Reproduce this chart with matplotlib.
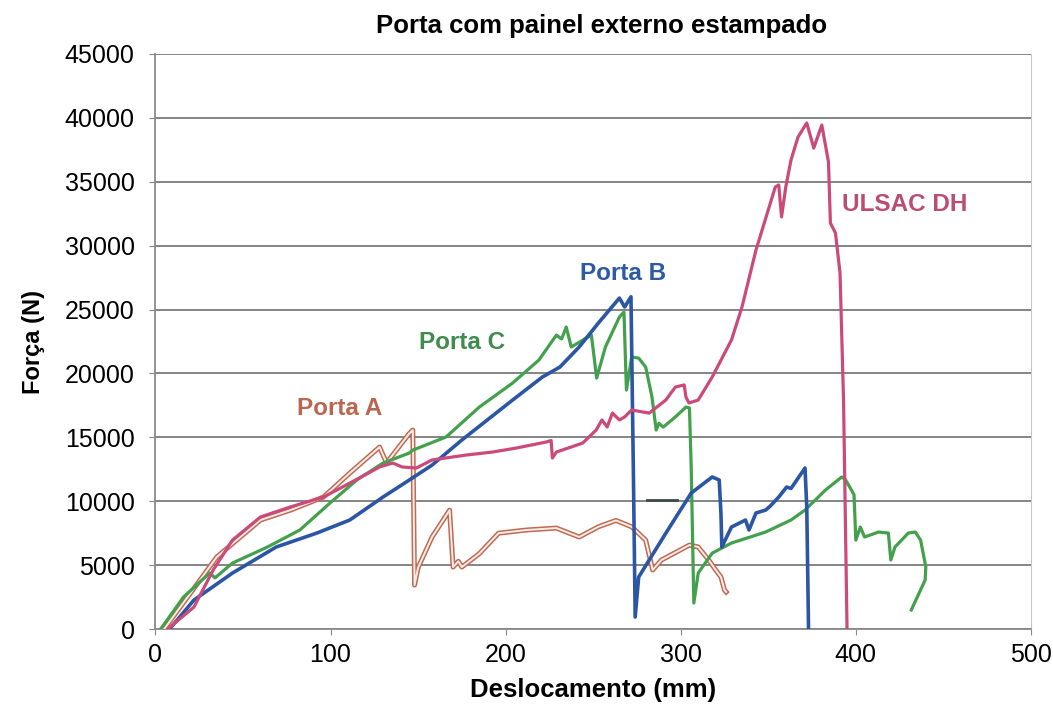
import numpy as np
import matplotlib.pyplot as plt

plt.rcParams['font.family'] = ['Liberation Sans', 'DejaVu Sans']

# Deslocamento (mm) / Força (N) de cada ensaio
porta_a_x = [5, 20, 35, 60, 77, 96, 111, 128, 132, 145, 147, 148, 150, 158, 168, 170, 173, 175,
             185, 196, 212, 229, 242, 253, 263, 272, 280, 284, 289, 305, 310, 316, 320, 323, 325, 326]
porta_a_y = [0, 2800, 5630, 8530, 9300, 10330, 12200, 14240, 13000, 15300, 15570, 3440, 4800, 7200,
             9300, 4850, 5300, 4850, 5900, 7500, 7750, 7900, 7200, 8000, 8500, 8000, 6960, 4620,
             5400, 6570, 6420, 5400, 4620, 4070, 3050, 2900]

porta_b_x = [8, 9, 22, 44, 69, 92, 111, 130, 145, 158, 175, 204, 221, 231, 242, 253, 265, 268,
             271.6, 273, 274, 276, 291.5, 306, 318, 322, 323, 323.5, 329, 337, 339, 343, 348.5,
             351, 356, 360.5, 363, 371, 372, 373]
porta_b_y = [0, 150, 2270, 4380, 6420, 7500, 8530, 10330, 11660, 12830, 14790, 17920, 19720, 20500,
             22070, 23950, 25900, 25200, 26000, 12000, 940, 4070, 7500, 10640, 11900, 11660, 9000,
             6420, 7980, 8530, 7750, 9080, 9310, 9600, 10330, 11110, 11000, 12600, 9550, 0]

porta_c_x = [3, 16, 31, 34, 44, 64, 82.5, 99.7, 115, 130, 145, 147, 166, 185, 204, 219, 229, 232,
             234.6, 237.5, 246, 249, 252, 257, 265, 267.6, 269, 272, 276, 280, 283.6, 286, 287.6,
             290, 297, 303, 305, 306, 307.5, 310, 318, 329, 348.5, 363, 371, 382.7, 392, 394,
             397.5, 399, 400, 402.6, 405, 413, 418.6, 420, 422.4, 430, 434, 437, 440, 439.6, 431.7]
porta_c_y = [0, 2500, 4380, 4000, 5160, 6420, 7750, 9860, 11660, 12990, 13770, 14000, 15030, 17370,
             19250, 21050, 23000, 22700, 23630, 22070, 22770, 23000, 19640, 22070, 24420, 24800,
             18700, 21290, 21200, 20500, 18150, 15570, 16100, 15800, 16600, 17370, 17300, 12680,
             2030, 4380, 5940, 6730, 7590, 8530, 9310, 10880, 11900, 11700, 10880, 10500, 6960,
             7980, 7200, 7590, 7510, 5400, 6420, 7510, 7590, 6960, 4850, 3830, 1490]

ulsac_x = [7, 22, 33, 44, 60, 77, 96, 111, 128, 135.5, 141, 149, 158, 177.7, 192.5, 206, 223, 226,
           226.7, 229, 244, 251.7, 255, 258, 261, 265, 268, 272, 282, 291.5, 297, 302, 303, 304.7,
           310, 318, 329, 335, 343, 350, 354, 356, 357.6, 360, 363, 367, 372, 376, 380.6, 384.4,
           385.5, 388.4, 391, 393, 395]
ulsac_y = [0, 1720, 4620, 6960, 8770, 9550, 10330, 11420, 12680, 12990, 12680, 12600, 13230, 13620,
           13850, 14160, 14630, 14750, 13380, 13850, 14550, 15570, 16360, 15810, 16900, 16360,
           16600, 17140, 16900, 17920, 18940, 19100, 18150, 17690, 17920, 19720, 22620, 25200,
           29660, 32790, 34590, 34750, 32250, 34590, 36700, 38500, 39600, 37640, 39440, 36550,
           31770, 30990, 27860, 17920, 0]

traco_x = [281, 298]
traco_y = [10100, 10100]

x_ticks = [0, 100, 200, 300, 400, 500]
y_ticks = list(range(0, 45001, 5000))

fig = plt.figure(figsize=(10.53, 7.04), dpi=100)
ax = fig.add_axes([0.1476, 0.1065, 0.8314, 0.8168])

# Porta A desenhada como linha dupla (contorno com miolo claro)
ax.plot(porta_a_x, porta_a_y, color='#c06a55', linewidth=3.6, zorder=3)
ax.plot(porta_a_x, porta_a_y, color='#fbeee6', linewidth=1.4, zorder=3)
ax.plot(porta_c_x, porta_c_y, color='#43a04c', linewidth=2.3, zorder=4)
ax.plot(porta_b_x, porta_b_y, color='#2b56a3', linewidth=2.6, zorder=5)
ax.plot(ulsac_x, ulsac_y, color='#cc4a7a', linewidth=2.3, zorder=6)
ax.plot(traco_x, traco_y, color='#3e4a4a', linewidth=2.0, zorder=6)

lab = dict(fontsize=17.5, fontweight='bold', ha='center', va='center')
ax.text(105, 17250, 'Porta A', color='#bb6650', **lab)
ax.text(175, 22450, 'Porta C', color='#3f8c4e', **lab)
ax.text(267, 27800, 'Porta B', color='#2d5aa2', **lab)
ax.text(428, 33200, 'ULSAC DH', color='#bb4c74', **lab)

ax.set_xlim(0, 500)
ax.set_ylim(0, 45000)
ax.set_xticks(x_ticks)
ax.set_yticks(y_ticks)
ax.tick_params(axis='both', labelsize=18, direction='out', length=4, color='#888888')
ax.tick_params(axis='x', pad=6)
ax.tick_params(axis='y', pad=11)
ax.grid(axis='y', color='#707070', linewidth=1.2)
ax.set_axisbelow(True)

for side in ['left', 'bottom']:
    ax.spines[side].set_color('#8a8a8a')
    ax.spines[side].set_linewidth(1.3)
ax.spines['right'].set_color('#c8c8c8')
ax.spines['top'].set_visible(False)

ax.set_title('Porta com painel externo estampado', fontsize=18.5, fontweight='bold', pad=15, x=0.51)
ax.set_xlabel('Deslocamento (mm)', fontsize=18.5, fontweight='bold', labelpad=8)
ax.set_ylabel('Força (N)', fontsize=17, fontweight='bold', labelpad=14)

fig.savefig('out.png', dpi=100)
